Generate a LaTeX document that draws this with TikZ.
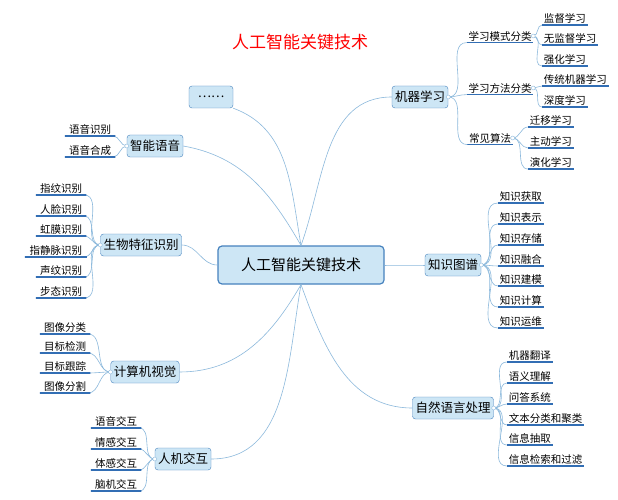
\documentclass[tikz,border=0pt]{standalone}
\usepackage{fontspec}
\setmainfont{Noto Sans CJK SC}
\usetikzlibrary{positioning}
\definecolor{boxfill}{RGB}{205,230,245}
\definecolor{boxline}{RGB}{70,130,190}
\definecolor{link}{RGB}{140,185,220}
\definecolor{uline}{RGB}{50,110,180}
\tikzset{
  root/.style={draw=boxline,fill=boxfill,rounded corners=4pt,line width=1.2pt,minimum width=166pt,minimum height=38pt,font=\fontsize{15}{17}\selectfont},
  branch/.style={draw=boxline,fill=boxfill,rounded corners=3pt,inner sep=3pt,minimum height=22pt,font=\fontsize{12.5}{14}\selectfont},
  leaf/.style={inner sep=1.5pt,font=\fontsize{10.5}{12}\selectfont,
    append after command={(\tikzlastnode.south west) edge[draw=uline,line width=1.2pt] (\tikzlastnode.south east)}},
  wire/.style={draw=link,line width=0.6pt},
  knob/.style={circle,draw=link,fill=white,inner sep=0pt,minimum size=4pt}
}
\begin{document}
\begin{tikzpicture}[x=1pt,y=-1pt]
    \useasboundingbox[fill=white] (0,0) rectangle (618,500);
    \node[text=red,font=\fontsize{17}{19}\selectfont] (title) at (300,42) {人工智能关键技术};
    \node[root] (ai) at (301,265) {人工智能关键技术};

    % branches
    \node[branch,minimum width=44pt] (etc) at (211,97) {……};
    \node[branch] (voice) at (155,146) {智能语音};
    \node[branch] (bio) at (141,245) {生物特征识别};
    \node[branch] (cv) at (145,372) {计算机视觉};
    \node[branch] (hci) at (183,459) {人机交互};
    \node[branch] (ml) at (420,97) {机器学习};
    \node[branch] (kg) at (453,265) {知识图谱};
    \node[branch] (nlp) at (453,408) {自然语言处理};

    \draw[wire] (ai.north) to[out=100,in=-20] (etc.south east);
    \draw[wire] (ai.north) to[out=120,in=-10] (voice.east);
    \draw[wire] (ai.west) to[out=180,in=0] (bio.east);
    \draw[wire] (ai.south) to[out=240,in=0] (cv.east);
    \draw[wire] (ai.south) to[out=260,in=0] (hci.east);
    \draw[wire] (ai.north) to[out=70,in=180] (ml.west);
    \draw[wire] (ai.east) to[out=0,in=180] (kg.west);
    \draw[wire] (ai.south) to[out=290,in=180] (nlp.west);

    % machine learning
    \node[leaf] (mode) at (500,36) {学习模式分类};
    \node[leaf] (meth) at (500,88) {学习方法分类};
    \node[leaf] (algo) at (490,138) {常见算法};
    \foreach \n in {mode,meth,algo}
        \draw[wire] (ml.east) to[out=0,in=180] (\n.south west);
    \foreach \t/\y in {监督学习/17,无监督学习/37,强化学习/58}
        \draw[wire] (mode.east) to[out=0,in=180] node[pos=1,leaf,anchor=south west] {\t} (542,\y+8);
    \foreach \t/\y in {传统机器学习/78,深度学习/99}
        \draw[wire] (meth.east) to[out=0,in=180] node[pos=1,leaf,anchor=south west] {\t} (542,\y+8);
    \foreach \t/\y in {迁移学习/119,主动学习/140,演化学习/161}
        \draw[wire] (algo.east) to[out=0,in=180] node[pos=1,leaf,anchor=south west] {\t} (528,\y+8);

    % knowledge graph
    \foreach \t/\y in {知识获取/195,知识表示/216,知识存储/237,知识融合/258,知识建模/278,知识计算/299,知识运维/320}
        \draw[wire] (kg.east) to[out=0,in=180] node[pos=1,leaf,anchor=south west] {\t} (498,\y+8);

    % nlp
    \foreach \t/\y in {机器翻译/354,语义理解/375,问答系统/396,文本分类和聚类/417,信息抽取/437,信息检索和过滤/458}
        \draw[wire] (nlp.east) to[out=0,in=180] node[pos=1,leaf,anchor=south west] {\t} (507,\y+8);

    % left side
    \foreach \t/\y in {语音识别/128,语音合成/149}
        \draw[wire] (voice.west) to[out=180,in=0] node[pos=1,leaf,anchor=south east] {\t} (113,\y+8);
    \foreach \t/\y in {指纹识别/187,人脸识别/208,虹膜识别/228,指静脉识别/249,声纹识别/269,步态识别/290}
        \draw[wire] (bio.west) to[out=180,in=0] node[pos=1,leaf,anchor=south east] {\t} (84,\y+8);
    \foreach \t/\y in {图像分类/326,目标检测/345,目标跟踪/365,图像分割/385}
        \draw[wire] (cv.west) to[out=180,in=0] node[pos=1,leaf,anchor=south east] {\t} (88,\y+8);
    \foreach \t/\y in {语音交互/420,情感交互/441,体感交互/462,脑机交互/483}
        \draw[wire] (hci.west) to[out=180,in=0] node[pos=1,leaf,anchor=south east] {\t} (139,\y+8);

    % small knobs beside the parents
    \foreach \n/\a in {ml/east,kg/east,nlp/east,voice/west,bio/west,cv/west,hci/west,mode/east,meth/east,algo/east}
        \node[knob] (k\n) at (\n.\a) {};
\end{tikzpicture}
\end{document}
